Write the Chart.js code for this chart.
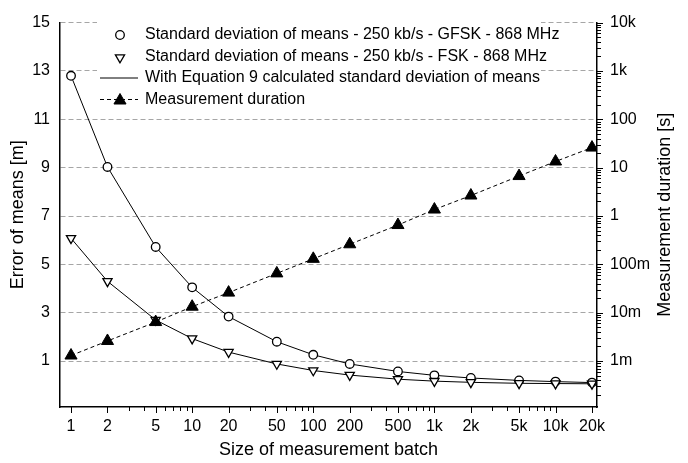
<!DOCTYPE html>
<html>
<head>
<meta charset="utf-8">
<script src="https://cdn.jsdelivr.net/npm/chart.js@4.4.0/dist/chart.umd.min.js"></script>
<style>
  html, body { margin: 0; padding: 0; background: #fff; }
</style>
</head>
<body>
<canvas id="grafico" width="688" height="463"></canvas>
<script>
// Tamanho do lote de medição (eixo x)
const batchSizes = [1, 2, 5, 10, 20, 50, 100, 200, 500, 1000, 2000, 5000, 10000, 20000];
const batchLabels = ['1', '2', '5', '10', '20', '50', '100', '200', '500', '1k', '2k', '5k', '10k', '20k'];

// Erro das médias [m] - eixo esquerdo
const gfskError = [12.8, 9.03, 5.72, 4.05, 2.84, 1.8, 1.26, 0.88, 0.57, 0.41, 0.3, 0.2, 0.15, 0.11];
const fskError = [6.08, 4.3, 2.7, 1.93, 1.37, 0.88, 0.61, 0.42, 0.25, 0.17, 0.12, 0.08, 0.07, 0.06];

// Duração da medição [s] - eixo direito
const durationSec = [0.0013, 0.0026, 0.0064, 0.0133, 0.026, 0.065, 0.13, 0.26, 0.65, 1.36, 2.65, 6.7, 13.4, 26];

// Marcas dos eixos
const errorTicks = [1, 3, 5, 7, 9, 11, 13, 15];
const durationTicks = [0.001, 0.01, 0.1, 1, 10, 100, 1000, 10000];
const durationLabels = ['1m', '10m', '100m', '1', '10', '100', '1k', '10k'];

const legendTexts = [
    'Standard deviation of means - 250 kb/s - GFSK - 868 MHz',
    'Standard deviation of means - 250 kb/s - FSK - 868 MHz',
    'With Equation 9 calculated standard deviation of means',
    'Measurement duration'
];

const FONTE = "'Liberation Sans', Arial, sans-serif";
Chart.defaults.font.family = FONTE;
Chart.defaults.color = '#000';

function pontos(valores) {
    return batchSizes.map((x, i) => ({ x: x, y: valores[i] }));
}

// marcas menores de escala logarítmica (1..9 por década)
function marcasLog(min, max) {
    const lista = [];
    for (let e = Math.floor(Math.log10(min)); e <= Math.ceil(Math.log10(max)); e++) {
        for (let m = 1; m <= 9; m++) {
            const v = parseFloat((m * Math.pow(10, e)).toPrecision(6));
            if (v >= min && v <= max) lista.push({ v: v, m: m });
        }
    }
    return lista;
}

const marcasPlugin = {
    id: 'marcas',
    afterDraw(chart) {
        const { ctx, scales } = chart;
        const x = scales.x, y2 = scales.y2;
        ctx.save();
        ctx.strokeStyle = '#000';
        ctx.lineWidth = 1;
        ctx.beginPath();
        marcasLog(1, 20000).forEach(t => {
            const len = batchSizes.includes(t.v) ? 6 : 4;
            const px = Math.round(x.getPixelForValue(t.v)) + 0.5;
            ctx.moveTo(px, x.top);
            ctx.lineTo(px, x.top + len);
        });
        marcasLog(y2.min, y2.max).forEach(t => {
            const len = t.m === 1 ? 6 : 4;
            const py = Math.round(y2.getPixelForValue(t.v)) + 0.5;
            ctx.moveTo(y2.left, py);
            ctx.lineTo(y2.left + len, py);
        });
        ctx.stroke();

        // título do eixo direito (lido de baixo para cima)
        const area = chart.chartArea;
        ctx.translate(665, (area.top + area.bottom) / 2);
        ctx.rotate(-Math.PI / 2);
        ctx.fillStyle = '#000';
        ctx.font = '18px ' + FONTE;
        ctx.textAlign = 'center';
        ctx.textBaseline = 'middle';
        ctx.fillText('Measurement duration [s]', 0, 0);
        ctx.restore();
    }
};

const legendaPlugin = {
    id: 'legendaInterna',
    afterDatasetsDraw(chart) {
        const ctx = chart.ctx;
        ctx.save();
        ctx.fillStyle = '#fff';
        ctx.fillRect(97, 21, 444, 87);
        ctx.strokeStyle = '#000';
        ctx.font = '16px ' + FONTE;
        ctx.textBaseline = 'middle';
        ctx.textAlign = 'left';
        legendTexts.forEach((txt, i) => {
            const y = 35 + i * 21.5;
            ctx.lineWidth = 1;
            if (i === 0) {
                ctx.lineWidth = 1.3;
                ctx.fillStyle = '#fff';
                ctx.beginPath(); ctx.arc(120, y, 4.3, 0, Math.PI * 2); ctx.fill(); ctx.stroke();
            } else if (i === 1) {
                ctx.lineWidth = 1.3;
                ctx.fillStyle = '#fff';
                Chart.helpers.drawPoint(ctx, { pointStyle: 'triangle', radius: 5.3, borderWidth: 1.3, rotation: 180 }, 120, y + 1);
            } else if (i === 2) {
                ctx.beginPath(); ctx.moveTo(100, y); ctx.lineTo(138, y); ctx.stroke();
            } else {
                ctx.setLineDash([4, 3]);
                ctx.beginPath(); ctx.moveTo(100, y); ctx.lineTo(138, y); ctx.stroke();
                ctx.setLineDash([]);
                ctx.fillStyle = '#000';
                Chart.helpers.drawPoint(ctx, { pointStyle: 'triangle', radius: 7, borderWidth: 1, rotation: 0 }, 120, y + 1);
            }
            ctx.fillStyle = '#000';
            ctx.fillText(txt, 145, y);
        });
        ctx.restore();
    }
};

new Chart(document.getElementById('grafico').getContext('2d'), {
    type: 'line',
    data: {
        datasets: [
            {
                label: legendTexts[0],
                data: pontos(gfskError),
                xAxisID: 'x', yAxisID: 'y',
                borderColor: '#000', borderWidth: 1,
                pointStyle: 'circle', pointRadius: 4.3, pointBorderWidth: 1.3,
                pointBackgroundColor: '#fff', pointBorderColor: '#000',
                tension: 0, order: 3
            },
            {
                label: legendTexts[1],
                data: pontos(fskError),
                xAxisID: 'x', yAxisID: 'y',
                borderColor: '#000', borderWidth: 1,
                pointStyle: 'triangle', pointRotation: 180, pointRadius: 5.3, pointBorderWidth: 1.3,
                pointBackgroundColor: '#fff', pointBorderColor: '#000',
                tension: 0, order: 2
            },
            {
                label: legendTexts[3],
                data: pontos(durationSec),
                xAxisID: 'x', yAxisID: 'y2',
                borderColor: '#000', borderWidth: 1, borderDash: [4, 3],
                pointStyle: 'triangle', pointRadius: 7, pointBorderWidth: 1,
                pointBackgroundColor: '#000', pointBorderColor: '#000',
                tension: 0, order: 1
            }
        ]
    },
    options: {
        responsive: false,
        devicePixelRatio: 1,
        animation: false,
        layout: { padding: { top: 15, left: 0, right: 0, bottom: 0 } },
        plugins: {
            legend: { display: false },
            tooltip: { enabled: false }
        },
        scales: {
            x: {
                type: 'logarithmic',
                position: 'bottom',
                min: 0.811,
                max: 22000,
                afterBuildTicks: s => { s.ticks = batchSizes.map(v => ({ value: v })); },
                afterFit: s => { s.height = 56; },
                ticks: {
                    autoSkip: false, maxRotation: 0, padding: 10,
                    font: { size: 16 }, color: '#000',
                    callback: (v, i) => batchLabels[i]
                },
                grid: { display: false, drawTicks: false },
                border: { display: true, color: '#000', width: 1.5 },
                title: {
                    display: true, text: 'Size of measurement batch',
                    font: { size: 18 }, color: '#000',
                    padding: { top: 0, bottom: 2.2 }
                }
            },
            y: {
                type: 'linear',
                position: 'left',
                min: -0.9,
                max: 15,
                afterBuildTicks: s => { s.ticks = errorTicks.map(v => ({ value: v })); },
                afterFit: s => { s.width = 60; },
                ticks: { padding: 10, font: { size: 16 }, color: '#000' },
                grid: { color: '#a6a6a6', lineWidth: 1, drawTicks: false },
                border: { display: true, color: '#000', width: 1.5, dash: [5, 3] },
                title: {
                    display: true, text: 'Error of means [m]',
                    font: { size: 18 }, color: '#000',
                    padding: { top: 7.7, bottom: 0 }
                }
            },
            y2: {
                type: 'logarithmic',
                position: 'right',
                min: 1.12e-4,
                max: 10000,
                afterBuildTicks: s => { s.ticks = durationTicks.map(v => ({ value: v })); },
                afterFit: s => { s.width = 91; },
                ticks: {
                    padding: 13, font: { size: 16 }, color: '#000',
                    callback: (v, i) => durationLabels[i]
                },
                grid: { drawOnChartArea: false, drawTicks: false },
                border: { display: true, color: '#000', width: 1.5 }
            }
        }
    },
    plugins: [marcasPlugin, legendaPlugin]
});
</script>
</body>
</html>
